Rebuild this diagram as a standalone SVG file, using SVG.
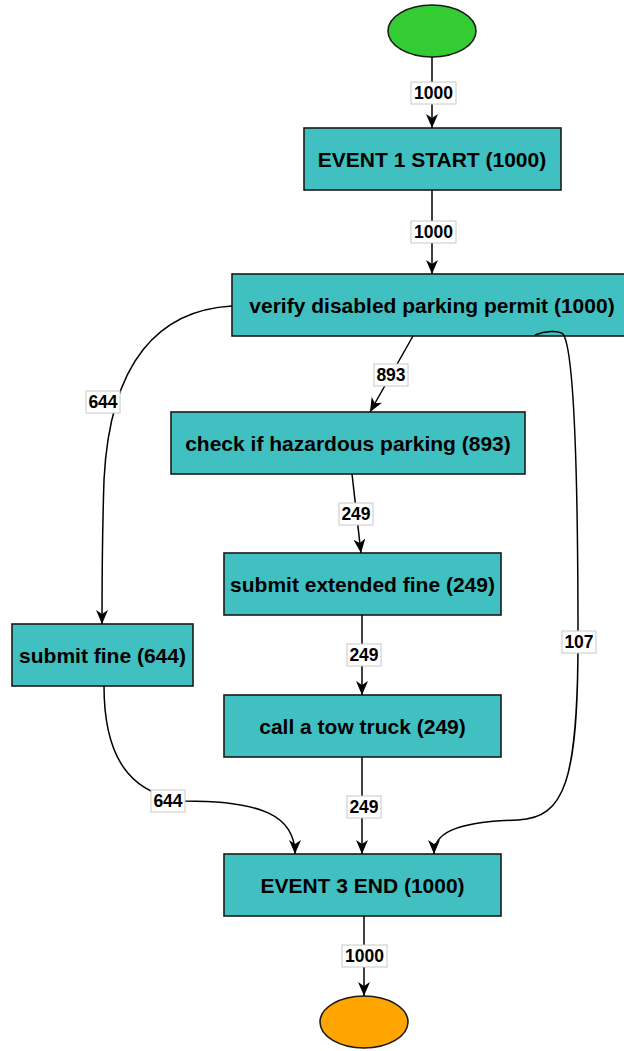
<svg xmlns="http://www.w3.org/2000/svg" width="624" height="1051" viewBox="0 0 624 1051">
<style>
.node rect{fill:#40c0c0;stroke:#1a1a1a;stroke-width:1.6}
.node text{font-family:"Liberation Sans",Arial,sans-serif;font-weight:bold;font-size:21px;fill:#000;text-anchor:middle;dominant-baseline:central}
.edges path{fill:none;stroke:#000;stroke-width:1.5;marker-end:url(#arr)}
.lbl rect{fill:#fff;stroke:#c8c8c8;stroke-width:1}
.lbl text{font-family:"Liberation Sans",Arial,sans-serif;font-weight:bold;font-size:17.5px;fill:#000;text-anchor:middle;dominant-baseline:central}
</style>
<defs>
<marker id="arr" viewBox="0 0 14 12" refX="14" refY="6" markerWidth="14" markerHeight="12" markerUnits="userSpaceOnUse" orient="auto">
<path d="M0,0 L14,6 L0,12 L4,6 z" fill="#000"/>
</marker>
</defs>
<g id="start"><ellipse cx="432" cy="31" rx="44" ry="26" fill="#33cc33" stroke="#1a1a1a" stroke-width="1.6"/></g>
<g id="event1" class="node"><rect x="304" y="128" width="257" height="62"/><text x="432" y="159">EVENT 1 START (1000)</text></g>
<g id="verify" class="node"><rect x="232" y="274" width="400" height="62"/><text x="432" y="305">verify disabled parking permit (1000)</text></g>
<g id="check" class="node"><rect x="171" y="412" width="354" height="62"/><text x="348" y="443">check if hazardous parking (893)</text></g>
<g id="extended" class="node"><rect x="224" y="553" width="277" height="62"/><text x="362.5" y="584">submit extended fine (249)</text></g>
<g id="fine" class="node"><rect x="12" y="624" width="181" height="62"/><text x="102.5" y="655">submit fine (644)</text></g>
<g id="tow" class="node"><rect x="224" y="695" width="277" height="62"/><text x="362.5" y="726">call a tow truck (249)</text></g>
<g id="event3" class="node"><rect x="224" y="854" width="277" height="62"/><text x="362.5" y="885">EVENT 3 END (1000)</text></g>
<g id="end"><ellipse cx="364" cy="1022" rx="44" ry="26" fill="#ffa500" stroke="#1a1a1a" stroke-width="1.6"/></g>
<g id="connectors" class="edges">
<path d="M432,57 L432,128"/>
<path d="M432,190 L432,274"/>
<path d="M413,336 L370,412"/>
<path d="M352,474 L361,553"/>
<path d="M362,615 L362,695"/>
<path d="M362,757 L362,854"/>
<path d="M232,306 C160,310 110,360 104,480 C102,540 102,580 102,624"/>
<path d="M104,686 C104,770 140,795 185,801 C260,801 295,815 295,854"/>
<path d="M535,335 C545,331 558,330 563,334 C575,350 578,500 578,640 C578,780 565,818 518,820 C450,822 434,835 434,854"/>
<path d="M364,916 L364,996"/>
</g>
<g id="labels">
<g class="lbl"><rect x="411" y="82" width="45" height="22"/><text x="433.5" y="93">1000</text></g>
<g class="lbl"><rect x="411" y="221" width="45" height="22"/><text x="433.5" y="232">1000</text></g>
<g class="lbl"><rect x="374" y="364" width="34" height="22"/><text x="391" y="375">893</text></g>
<g class="lbl"><rect x="339" y="503" width="34" height="22"/><text x="356" y="514">249</text></g>
<g class="lbl"><rect x="347" y="644" width="34" height="22"/><text x="364" y="655">249</text></g>
<g class="lbl"><rect x="347" y="796" width="34" height="22"/><text x="364" y="807">249</text></g>
<g class="lbl"><rect x="86" y="391" width="34" height="22"/><text x="103" y="402">644</text></g>
<g class="lbl"><rect x="151" y="790" width="34" height="22"/><text x="168" y="801">644</text></g>
<g class="lbl"><rect x="562" y="631" width="34" height="22"/><text x="579" y="642">107</text></g>
<g class="lbl"><rect x="342" y="945" width="45" height="22"/><text x="364.5" y="956">1000</text></g>
</g>
</svg>
